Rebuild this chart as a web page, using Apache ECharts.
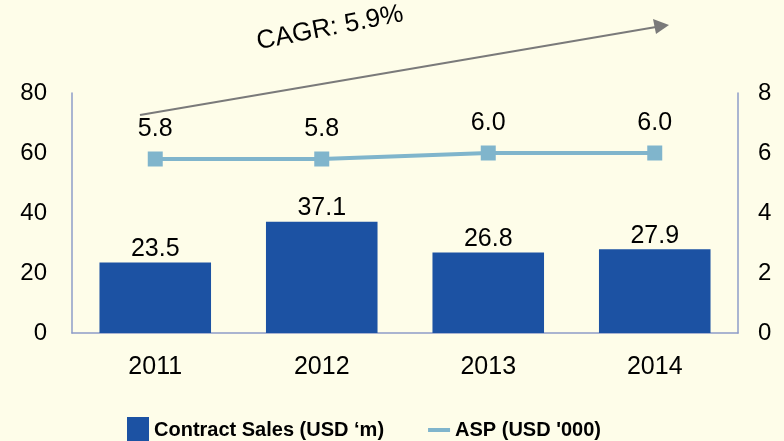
<!DOCTYPE html>
<html>
<head>
<meta charset="utf-8">
<script src="https://cdn.jsdelivr.net/npm/echarts@6/dist/echarts.min.js"></script>
<style>
  html, body { margin: 0; padding: 0; background: #fefde9; }
  #chart { width: 784px; height: 441px; }
</style>
</head>
<body>
<div id="chart"></div>
<script>
  var years = ['2011', '2012', '2013', '2014']
  var contractSales = [23.5, 37.1, 26.8, 27.9]
  var asp = [5.8, 5.8, 6.0, 6.0]
  var leftTicks = [0, 80, 20]   // min, max, interval
  var rightTicks = [0, 8, 2]

  var font = '"Liberation Sans", Arial, sans-serif'
  var chart = echarts.init(document.getElementById('chart'))

  chart.setOption({
    backgroundColor: '#fefde9',
    textStyle: {fontFamily: font},
    animation: false,
    grid: {left: 72, right: 46, top: 93, bottom: 108},
    legend: {
      bottom: -7,
      left: 122,
      itemGap: 44,
      itemWidth: 22,
      itemHeight: 26,
      textStyle: {fontSize: 20, fontWeight: 'bold', color: '#000', fontFamily: font},
      data: [
        {name: 'Contract Sales (USD ‘m)', icon: 'rect'},
        {name: "ASP (USD '000)", icon: 'path://M0,11 L22,11 L22,15 L0,15 Z'}
      ]
    },
    xAxis: {
      type: 'category',
      data: years,
      axisLine: {lineStyle: {color: '#8e9cc8', width: 1.5}},
      axisTick: {show: false},
      axisLabel: {fontSize: 25, color: '#000', margin: 22}
    },
    yAxis: [
      {
        type: 'value',
        min: leftTicks[0], max: leftTicks[1], interval: leftTicks[2],
        axisLine: {show: true, lineStyle: {color: '#8e9cc8', width: 1.5}},
        axisTick: {show: false},
        splitLine: {show: false},
        axisLabel: {fontSize: 24, color: '#000', margin: 25}
      },
      {
        type: 'value',
        min: rightTicks[0], max: rightTicks[1], interval: rightTicks[2],
        axisLine: {show: true, lineStyle: {color: '#8e9cc8', width: 1.5}},
        axisTick: {show: false},
        splitLine: {show: false},
        axisLabel: {fontSize: 24, color: '#000', margin: 20}
      }
    ],
    series: [
      {
        name: 'Contract Sales (USD ‘m)',
        type: 'bar',
        data: contractSales,
        barWidth: '67%',
        itemStyle: {color: '#1c52a3'},
        label: {
          show: true, position: 'top', distance: 1,
          fontSize: 25, color: '#000',
          formatter: function (p) { return p.value.toFixed(1) }
        }
      },
      {
        name: "ASP (USD '000)",
        type: 'line',
        yAxisIndex: 1,
        data: asp,
        symbol: 'rect',
        symbolSize: 15,
        lineStyle: {color: '#80b5cc', width: 4},
        itemStyle: {color: '#80b5cc'},
        label: {
          show: true, position: 'top', distance: 10,
          fontSize: 25, color: '#000',
          formatter: function (p) { return p.value.toFixed(1) }
        }
      }
    ],
    graphic: [
      {
        type: 'line',
        shape: {x1: 140, y1: 115, x2: 656, y2: 27},
        style: {stroke: '#7a7a7a', lineWidth: 2}
      },
      {
        type: 'polygon',
        shape: {points: [[669, 25], [653, 19], [656, 34]]},
        style: {fill: '#7a7a7a'}
      },
      {
        type: 'text',
        x: 330, y: 28,
        rotation: 11 * Math.PI / 180,
        style: {
          text: 'CAGR: 5.9%',
          fontSize: 26, fontFamily: font, fill: '#000',
          align: 'center', verticalAlign: 'middle'
        }
      }
    ]
  })
</script>
</body>
</html>
